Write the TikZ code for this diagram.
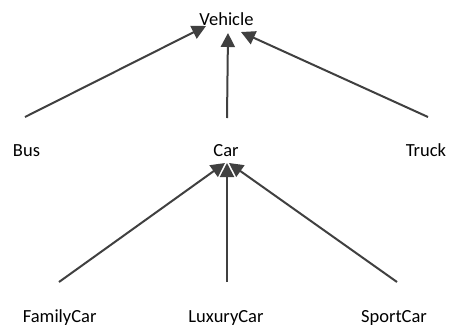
\documentclass[tikz,border=0pt]{standalone}
\usepackage{fontspec}
\setmainfont{Carlito}
\usetikzlibrary{arrows.meta}
\definecolor{arrcol}{HTML}{404040}
\begin{document}
\begin{tikzpicture}[x=1pt,y=-1pt,
  lbl/.style={anchor=base,inner sep=0pt,font=\fontsize{18.5}{22}\selectfont,text=black},
  arr/.style={draw=arrcol,line width=2pt,-{Triangle[length=14pt,width=14pt]},arrcol}]
\useasboundingbox (0,0) rectangle (449,327);
\node[lbl] (vehicle) at (226.5,25) {Vehicle};
\node[lbl] (bus) at (26.5,156) {Bus};
\node[lbl] (car) at (226,156) {Car};
\node[lbl] (truck) at (426,156) {Truck};
\node[lbl] (family) at (59.7,322.7) {FamilyCar};
\node[lbl] (luxury) at (226,322.7) {LuxuryCar};
\node[lbl] (sport) at (394,322.7) {SportCar};
\draw[arr] ([shift={(-1.5,-39)}]bus.base) -- ([shift={(-20.5,1)}]vehicle.base);
\draw[arr] ([shift={(1,-38)}]car.base) -- ([shift={(1.5,8)}]vehicle.base);
\draw[arr] ([shift={(2,-39)}]truck.base) -- ([shift={(14.5,7)}]vehicle.base);
\draw[arr] ([shift={(-0.7,-40.7)}]family.base) -- ([shift={(-1,7)}]car.base);
\draw[arr] ([shift={(1,-40.7)}]luxury.base) -- ([shift={(1,7)}]car.base);
\draw[arr] ([shift={(3,-40.7)}]sport.base) -- ([shift={(3,7)}]car.base);
\end{tikzpicture}
\end{document}
